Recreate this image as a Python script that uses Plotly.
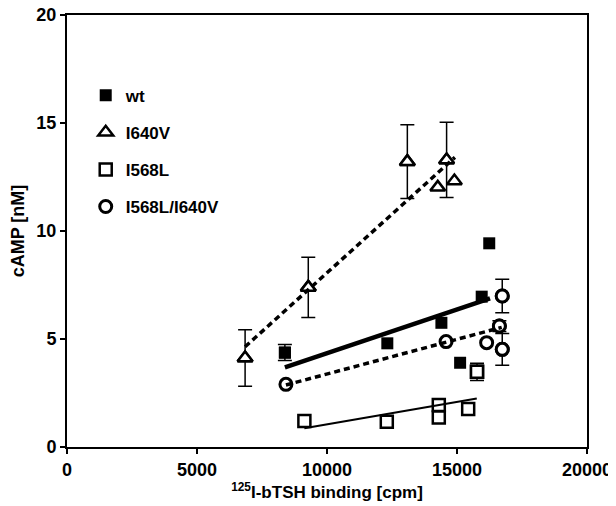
import plotly.graph_objects as go

# ---- data ----
series_names = ["wt", "I640V", "I568L", "I568L/I640V"]

wt_x = [8380, 12320, 14400, 15120, 15950, 16240]
wt_y = [4.37, 4.80, 5.75, 3.90, 6.96, 9.43]
wt_err = [0.37, 0, 0, 0, 0, 0]
wt_fit_x = [8380, 16270]
wt_fit_y = [3.69, 6.88]

i640v_x = [6850, 9280, 13090, 14600, 14260, 14900]
i640v_y = [4.12, 7.39, 13.21, 13.29, 12.02, 12.31]
i640v_err = [1.31, 1.40, 1.71, 1.74, 0, 0]
i640v_fit_x = [6850, 14920]
i640v_fit_y = [4.64, 13.41]

i568l_x = [9130, 12300, 14300, 14300, 15430, 15770]
i568l_y = [1.20, 1.17, 1.94, 1.36, 1.76, 3.48]
i568l_err = [0, 0, 0, 0, 0, 0.40]
i568l_fit_x = [9130, 15760]
i568l_fit_y = [0.87, 2.25]

dbl_x = [8420, 14580, 16140, 16630, 16740, 16740]
dbl_y = [2.90, 4.88, 4.83, 5.60, 6.99, 4.52]
dbl_err = [0, 0, 0, 0.25, 0.78, 0.74]
dbl_fit_x = [8420, 16720]
dbl_fit_y = [2.87, 5.54]

x_ticks = [0, 5000, 10000, 15000, 20000]
y_ticks = [0, 5, 10, 15, 20]

FONT = "Liberation Sans, Arial, sans-serif"

fill_markers = [
    dict(symbol="square", size=12, color="black", line=dict(color="black", width=0)),
    dict(symbol="triangle-up", size=13, color="white", line=dict(color="black", width=2.5)),
    dict(symbol="square", size=12, color="white", line=dict(color="black", width=2.5)),
    dict(symbol="circle", size=12, color="white", line=dict(color="black", width=3)),
]
lines = [
    dict(color="black", width=4.5),
    dict(color="black", width=3.5, dash="6px,4px"),
    dict(color="black", width=2),
    dict(color="black", width=3.5, dash="6px,4px"),
]

data = [
    (wt_x, wt_y, wt_err, wt_fit_x, wt_fit_y),
    (i640v_x, i640v_y, i640v_err, i640v_fit_x, i640v_fit_y),
    (i568l_x, i568l_y, i568l_err, i568l_fit_x, i568l_fit_y),
    (dbl_x, dbl_y, dbl_err, dbl_fit_x, dbl_fit_y),
]

fig = go.Figure()

# error-bar points (drawn first, below markers)
for i, (xs, ys, es, fx, fy) in enumerate(data):
    ex = [x for x, e in zip(xs, es) if e > 0]
    ey = [y for y, e in zip(ys, es) if e > 0]
    ee = [e for e in es if e > 0]
    if ex:
        fig.add_trace(go.Scatter(
            x=ex, y=ey, mode="markers", showlegend=False,
            marker=fill_markers[i],
            error_y=dict(type="data", array=ee, visible=True, color="black",
                         thickness=1.5, width=7),
            hoverinfo="skip", legendgroup=series_names[i]))

# all points
for i, (xs, ys, es, fx, fy) in enumerate(data):
    fig.add_trace(go.Scatter(
        x=xs, y=ys, mode="markers", name=series_names[i],
        marker=fill_markers[i], legendgroup=series_names[i]))

# fit lines
for i, (xs, ys, es, fx, fy) in enumerate(data):
    fig.add_trace(go.Scatter(
        x=fx, y=fy, mode="lines", showlegend=False, line=lines[i],
        legendgroup=series_names[i]))

axis_common = dict(
    showline=True, linecolor="black", linewidth=2, mirror=True,
    ticks="outside", ticklen=5, tickwidth=1.5, tickcolor="black",
    showgrid=False, zeroline=False, automargin=False,
    ticklabeloverflow="allow",
    tickfont=dict(family=FONT, size=18, color="black", weight="bold"),
)

# the page body adds an 8px offset, so the figure is laid out 8px up/left
fig.update_layout(
    width=608, height=498,
    margin=dict(l=59, r=29, t=7, b=59, autoexpand=False),
    paper_bgcolor="white", plot_bgcolor="white",
    xaxis=dict(range=[0, 20000], tickvals=x_ticks, ticktext=[str(v) for v in x_ticks],
               title=dict(text="<sup>125</sup>I-bTSH binding [cpm]", standoff=4,
                          font=dict(family=FONT, size=17, color="black", weight="bold")),
               **axis_common),
    yaxis=dict(range=[0, 20], tickvals=y_ticks, ticktext=[str(v) for v in y_ticks],
               title=dict(text="cAMP [nM]", standoff=7,
                          font=dict(family=FONT, size=18, color="black", weight="bold")),
               **axis_common),
    legend=dict(x=0.036, y=0.855, xanchor="left", yanchor="top",
                font=dict(family=FONT, size=17, color="black", weight="bold"),
                tracegroupgap=12, traceorder="grouped",
                bgcolor="rgba(0,0,0,0)", borderwidth=0),
    showlegend=True,
)

fig.write_html("out.html")
